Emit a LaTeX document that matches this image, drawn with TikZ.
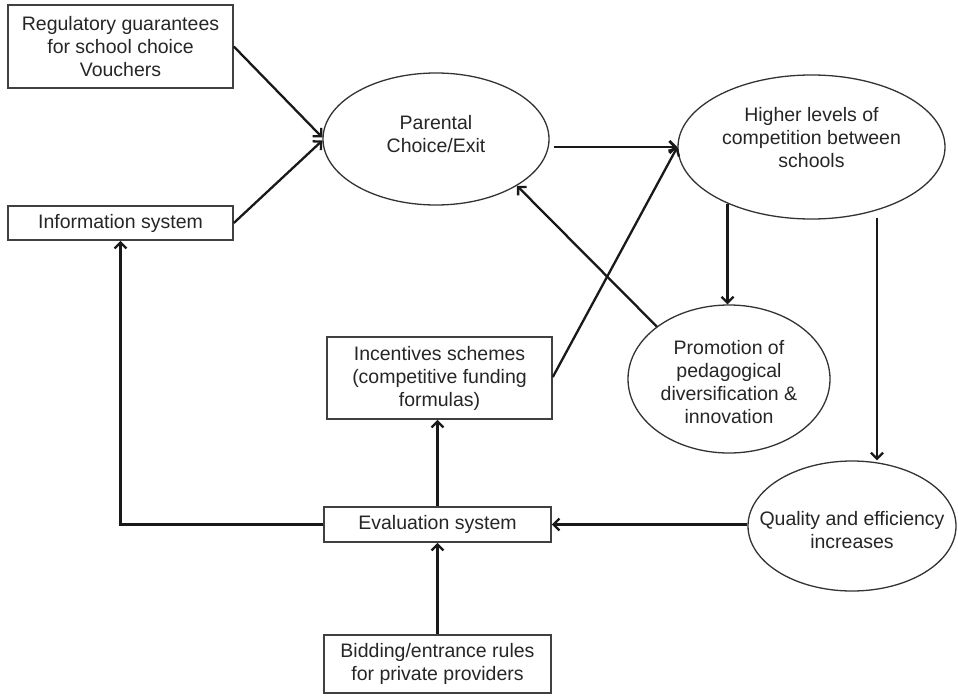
\documentclass[tikz,border=0pt]{standalone}
\usepackage{fontspec}
\setmainfont{Liberation Sans}
\usetikzlibrary{shapes.geometric,arrows.meta}
\begin{document}
\begin{tikzpicture}[x=1pt,y=-1pt,
  every node/.style={font=\fontsize{19.5}{23}\selectfont, text=black!85},
  box/.style={draw=black!75, line width=1.6pt, rectangle, align=center, inner sep=0pt},
  ell/.style={draw=black!80, line width=1.3pt, ellipse, inner sep=0pt},
  etext/.style={align=center, inner sep=0pt},
  arr/.style={draw=black!90, line width=2.3pt, -{Straight Barb[length=6pt,width=12pt]}}]
\useasboundingbox[fill=white] (0,0) rectangle (958,696);

% boxes
\node[box, minimum width=225pt, minimum height=83pt] (reg) at (120.5,46.5)
  {Regulatory guarantees\\for school choice\\Vouchers};
\node[box, minimum width=225pt, minimum height=34pt] (inf) at (120.5,223)
  {Information system};
\node[box, minimum width=225pt, minimum height=82pt] (inc) at (439.5,378)
  {Incentives schemes\\(competitive funding\\formulas)};
\node[box, minimum width=227pt, minimum height=35pt] (eva) at (437.5,524.5)
  {Evaluation system};
\node[box, minimum width=227pt, minimum height=58pt] (bid) at (437.5,664)
  {Bidding/entrance rules\\for private providers};

% ellipses
\node[ell, minimum width=226pt, minimum height=132pt,
  label={[etext, yshift=5pt]center:Parental\\Choice/Exit}] (par) at (436,139) {};
\node[ell, minimum width=267pt, minimum height=144pt,
  label={[etext, yshift=9pt]center:Higher levels of\\competition between\\schools}] (hig) at (811.5,147) {};
\node[ell, minimum width=202pt, minimum height=148pt,
  label={[etext, yshift=-3pt]center:Promotion of\\pedagogical\\diversification \&\\innovation}] (pro) at (729,379) {};
\node[ell, minimum width=208pt, minimum height=130pt,
  label={[etext, yshift=-4pt]center:Quality and efficiency\\increases}] (qua) at (852,526) {};

\coordinate (hq) at (877,218);

% connectors
\draw[arr] (reg.east) -- ([yshift=1.5pt]par.west);
\draw[arr] (inf.east) -- ([yshift=-1.5pt]par.west);
\draw[arr, line width=2.8pt] ([shift={(4pt,-8pt)}]par.east) -- (hig.west);
\draw[arr] ([yshift=1pt]inc.east) -- (hig.west);
\draw[arr] (pro.144) -- (par.-30);
\draw[arr] (hig.-146) -- (hig.-146 |- pro.north);
\draw[arr] (hq) -- (hq |- qua.north);
\draw[arr] (qua.west |- eva.east) -- (eva.east);
\draw[arr] (eva.north) -- (eva.north |- inc.south);
\draw[arr] (bid.north) -- (eva.south);
\draw[arr] (eva.west) -| (inf.south);
\end{tikzpicture}
\end{document}
